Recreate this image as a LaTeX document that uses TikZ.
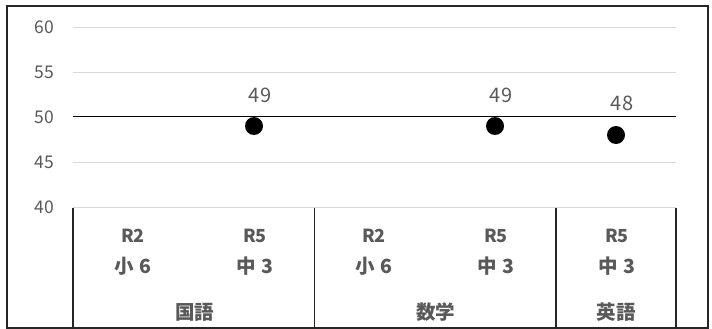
\documentclass[tikz,border=0pt]{standalone}
\usepackage{fontspec}
\setmainfont{Noto Sans CJK JP}
\usepackage{tikz}

\definecolor{achse}{HTML}{595959}
\definecolor{gitter}{HTML}{D9D9D9}
\tikzset{
  gridline/.style={line width=1.3pt, gitter},
  sepline/.style={line width=1.3pt, black!85},
  ticklabel/.style={anchor=east, text=achse, font=\fontsize{17.5}{20}\selectfont, inner sep=0pt},
  catlabel/.style={text=achse, font=\fontsize{18}{20}\bfseries\selectfont, inner sep=0pt},
  cjklabel/.style={text=achse, font=\fontsize{19.5}{22}\bfseries\selectfont, inner sep=0pt},
  datalabel/.style={text=achse, font=\fontsize{20}{22}\selectfont, inner sep=0pt},
  dot/.style={circle, fill=black, minimum size=18pt, inner sep=0pt}
}

\begin{document}
\begin{tikzpicture}[x=1pt,y=-1pt]
  \useasboundingbox (0,0) rectangle (712,329);
  % outer frame
  \draw[line width=1.4pt, black!85] (7,6) rectangle (708,328);

  % gridlines and y labels (40..60, 9.02 px per unit)
  \foreach \v in {40,45,55,60}{
    \pgfmathsetmacro{\yy}{207.7-9.02*(\v-40)}
    \draw[gridline] (73,\yy) -- (676,\yy);
  }
  \foreach \v in {40,45,50,55,60}{
    \pgfmathsetmacro{\yy}{207.7-9.02*(\v-40)}
    \node[ticklabel] (tick\v) at (54,\yy) {\v};
  }
  % 50 reference line
  \draw[line width=1.5pt, black] (73,116.5) -- (676,116.5);

  % category separators
  \foreach \x in {73,314.5,556,676}
    \draw[sepline] (\x,207.7) -- (\x,328);

  % data points
  \node[dot] (p1) at (254,126) {};
  \node[dot] (p2) at (495,126) {};
  \node[dot] (p3) at (616,135) {};
  \node[datalabel] (l1) at (260,95) {49};
  \node[datalabel] (l2) at (501,95) {49};
  \node[datalabel] (l3) at (622,103) {48};

  % category labels
  \node[catlabel] (r1) at (133,236) {R2};
  \node[catlabel] (r2) at (255,236) {R5};
  \node[catlabel] (r3) at (374,236) {R2};
  \node[catlabel] (r4) at (496,236) {R5};
  \node[catlabel] (r5) at (617,236) {R5};
  \node[cjklabel] (g1) at (133,266) {小\hspace{0.3em}6};
  \node[cjklabel] (g2) at (255,266) {中\hspace{0.3em}3};
  \node[cjklabel] (g3) at (374,266) {小\hspace{0.3em}6};
  \node[cjklabel] (g4) at (496,266) {中\hspace{0.3em}3};
  \node[cjklabel] (g5) at (617,266) {中\hspace{0.3em}3};
  \node[cjklabel] (s1) at (194.5,312) {国語};
  \node[cjklabel] (s2) at (435.5,312) {数学};
  \node[cjklabel] (s3) at (616,312) {英語};
\end{tikzpicture}
\end{document}
